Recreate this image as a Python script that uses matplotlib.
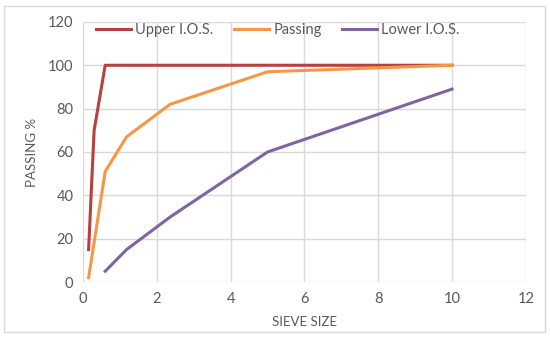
import matplotlib.pyplot as plt
from matplotlib.patches import FancyBboxPatch

# sieve sizes and passing percentages
upper_size = [0.15, 0.3, 0.6, 1.18, 2.36, 5, 10]
upper_pass = [15, 70, 100, 100, 100, 100, 100]

passing_size = [0.15, 0.6, 1.18, 2.36, 5, 10]
passing_pass = [2, 51, 67, 82, 97, 100]

lower_size = [0.6, 1.18, 2.36, 5, 10]
lower_pass = [5, 15, 30, 60, 89]

plt.rcParams['font.family'] = ['Lato', 'DejaVu Sans']
txt = '#595959'

fig = plt.figure(figsize=(5.5, 3.37), dpi=100)
ax = fig.add_axes([0.151, 0.163, 0.805, 0.772])

# outer chart border
fig.patches.append(FancyBboxPatch((0.008, 0.015), 0.983, 0.968, boxstyle='square,pad=0',
                                  transform=fig.transFigure, fill=False,
                                  edgecolor='#d9d9d9', linewidth=1))

ax.plot(upper_size, upper_pass, color='#b7413e', linewidth=2.2, label='Upper I.O.S.')
ax.plot(passing_size, passing_pass, color='#f79646', linewidth=2.2, label='Passing')
ax.plot(lower_size, lower_pass, color='#8064a2', linewidth=2.2, label='Lower I.O.S.')

ax.set_xlim(0, 12)
ax.set_ylim(0, 120)
ax.set_xticks(range(0, 13, 2))
ax.set_yticks(range(0, 121, 20))
ax.grid(True, color='#d9d9d9', linewidth=1)
ax.set_axisbelow(True)
for s in ax.spines.values():
    s.set_visible(False)
ax.tick_params(length=0, labelsize=10.5, labelcolor=txt, pad=7)

ax.set_xlabel('SIEVE SIZE', fontsize=9.5, color=txt, labelpad=7)
ax.set_ylabel('PASSING %', fontsize=9.5, color=txt, labelpad=7)

ax.legend(loc='upper center', bbox_to_anchor=(0.44, 1.045), ncol=3, frameon=False,
          fontsize=10.5, labelcolor=txt, handlelength=2.4, handletextpad=0.3,
          columnspacing=1.4)

fig.savefig('out.png', dpi=100)
